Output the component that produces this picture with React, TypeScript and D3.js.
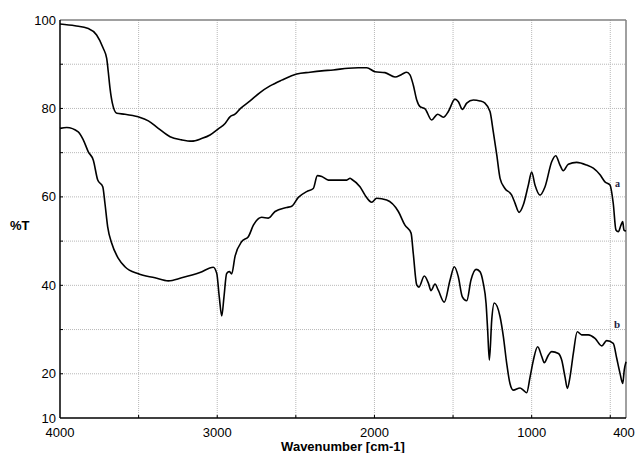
import React from "react";
import * as d3 from "d3";

// FTIR spectra: wavenumber (cm-1) against transmittance (%T)
const waveA = [4000, 3905, 3820, 3767, 3725, 3703, 3693, 3682, 3667, 3639, 3587, 3502, 3438, 3375, 3300, 3226, 3162, 3099, 3046, 2993, 2950, 2919, 2887, 2855, 2791, 2728, 2664, 2590, 2494, 2410, 2335, 2262, 2166, 2103, 2049, 1996, 1933, 1869, 1827, 1795, 1774, 1753, 1731, 1710, 1678, 1636, 1598, 1562, 1530, 1488, 1466, 1441, 1413, 1371, 1329, 1297, 1265, 1244, 1222, 1201, 1170, 1127, 1106, 1080, 1053, 1021, 1000, 979, 947, 915, 872, 847, 820, 799, 767, 714, 650, 608, 565, 534, 502, 481, 464, 449, 432, 421, 413, 400];
const transA = [99.1, 98.7, 98.1, 96.6, 93.6, 91.3, 88.3, 84.6, 81.2, 78.9, 78.7, 78.1, 77.2, 75.5, 73.6, 72.9, 72.6, 73.2, 74.0, 75.4, 76.6, 78.1, 78.7, 79.9, 81.7, 83.6, 85.1, 86.4, 87.8, 88.2, 88.5, 88.7, 89.1, 89.2, 89.2, 88.3, 88.1, 87.1, 87.7, 88.2, 87.6, 85.3, 81.9, 80.4, 79.9, 77.4, 78.7, 78.0, 79.3, 82.1, 81.5, 79.8, 81.2, 81.9, 81.7, 81.2, 79.3, 74.7, 69.5, 64.2, 61.9, 60.4, 58.6, 56.5, 58.2, 62.7, 65.6, 62.7, 60.4, 62.3, 68.0, 69.3, 67.2, 65.9, 67.4, 67.8, 67.2, 66.5, 65.0, 63.4, 62.7, 58.5, 52.5, 52.1, 53.6, 54.4, 52.5, 52.3];

const waveB = [4000, 3957, 3884, 3852, 3820, 3788, 3760, 3728, 3714, 3697, 3671, 3629, 3587, 3502, 3396, 3311, 3226, 3110, 3025, 3003, 2987, 2971, 2957, 2940, 2923, 2908, 2887, 2844, 2802, 2770, 2717, 2675, 2632, 2558, 2526, 2484, 2431, 2389, 2363, 2335, 2293, 2240, 2176, 2155, 2145, 2092, 2060, 2017, 1986, 1922, 1848, 1806, 1767, 1753, 1731, 1717, 1683, 1657, 1640, 1615, 1594, 1556, 1519, 1492, 1467, 1441, 1413, 1386, 1354, 1329, 1308, 1290, 1280, 1269, 1254, 1238, 1201, 1180, 1159, 1138, 1117, 1074, 1053, 1032, 1010, 989, 962, 936, 920, 894, 873, 830, 809, 788, 773, 756, 735, 710, 682, 640, 597, 554, 523, 481, 459, 438, 421, 411, 400];
const transB = [75.5, 75.7, 74.7, 72.9, 70.2, 68.3, 63.8, 62.3, 58.5, 53.3, 49.5, 46.1, 44.2, 42.6, 41.7, 41.0, 41.7, 42.9, 44.1, 42.7, 37.4, 33.1, 37.4, 42.7, 43.1, 42.6, 46.5, 49.9, 51.0, 53.6, 55.4, 55.2, 56.7, 57.6, 57.9, 59.9, 61.2, 61.9, 64.8, 64.6, 63.8, 63.8, 63.8, 64.2, 64.0, 62.3, 60.4, 58.8, 59.7, 59.3, 56.7, 53.6, 51.8, 47.2, 40.1, 39.6, 42.1, 40.5, 38.8, 40.3, 38.9, 36.2, 41.2, 44.2, 42.0, 37.4, 36.5, 41.2, 43.6, 43.1, 40.5, 35.9, 29.9, 23.1, 32.2, 36.0, 32.9, 28.4, 22.4, 17.8, 16.3, 16.8, 16.3, 15.7, 19.3, 23.1, 26.1, 23.9, 22.5, 24.2, 25.0, 24.6, 23.1, 19.3, 16.7, 19.3, 24.6, 29.5, 28.8, 28.8, 28.0, 26.3, 27.5, 26.9, 23.5, 20.1, 17.8, 20.9, 22.7];

const xTickValues = [4000, 3000, 2000, 1000, 400];
const xGridValues = [3500, 3000, 2500, 2000, 1500, 1000, 500];
const yTickValues = [100, 80, 60, 40, 20, 10];
const yGridValues = [90, 80, 70, 60, 50, 40, 30, 20];

const W = 636;
const H = 453;
const left = 60;
const right = 626;
const top = 20;
const bottom = 418;

export default function App() {
  const x = d3.scaleLinear().domain([4000, 400]).range([left, right]);
  const y = d3.scaleLinear().domain([10, 100]).range([bottom, top]);

  const line = d3
    .line<[number, number]>()
    .x((d) => x(d[0]))
    .y((d) => y(d[1]))
    .curve(d3.curveMonotoneX);

  const pathA = line(waveA.map((w, i) => [w, transA[i]]) as [number, number][]) || "";
  const pathB = line(waveB.map((w, i) => [w, transB[i]]) as [number, number][]) || "";

  const font = "'Liberation Sans', Arial, sans-serif";

  return (
    <div style={{ position: "absolute", left: 0, top: 0 }}>
      <svg width={W} height={H} style={{ display: "block", background: "#fff" }}>
        {/* grid */}
        {yGridValues.map((v) => (
          <line key={"gy" + v} x1={left} x2={right} y1={y(v)} y2={y(v)} stroke="#b8b8b8" strokeWidth={1} strokeDasharray="1,1" />
        ))}
        {xGridValues.map((v) => (
          <line key={"gx" + v} x1={x(v)} x2={x(v)} y1={top} y2={bottom} stroke="#b8b8b8" strokeWidth={1} strokeDasharray="1,1" />
        ))}

        {/* frame */}
        <line x1={left} x2={right} y1={top} y2={top} stroke="#808080" strokeWidth={1.5} />
        <line x1={right} x2={right} y1={top} y2={bottom} stroke="#808080" strokeWidth={1.5} />
        <line x1={left} x2={left} y1={top} y2={bottom} stroke="#000" strokeWidth={1.5} />
        <line x1={left} x2={right} y1={bottom} y2={bottom} stroke="#000" strokeWidth={1.5} />

        {/* inward ticks */}
        {[90, 80, 70, 60, 50, 40, 30, 20].map((v) => (
          <line key={"ty" + v} x1={left} x2={left + 3} y1={y(v)} y2={y(v)} stroke="#000" strokeWidth={1} />
        ))}
        {xGridValues.map((v) => (
          <line key={"tx" + v} x1={x(v)} x2={x(v)} y1={bottom} y2={bottom - 3} stroke="#000" strokeWidth={1} />
        ))}

        {/* spectra */}
        <path d={pathA} fill="none" stroke="#000" strokeWidth={1.6} strokeLinejoin="round" />
        <path d={pathB} fill="none" stroke="#000" strokeWidth={1.6} strokeLinejoin="round" />

        {/* tick labels */}
        {yTickValues.map((v) => (
          <text key={"ly" + v} x={56} y={y(v) + 4.5} textAnchor="end" fontFamily={font} fontSize={13} fill="#000">
            {v}
          </text>
        ))}
        {xTickValues.map((v) => (
          <text key={"lx" + v} x={v === 400 ? x(v) - 2 : x(v)} y={437} textAnchor="middle" fontFamily={font} fontSize={13} fill="#000">
            {v}
          </text>
        ))}

        {/* axis titles */}
        <text x={343} y={451} textAnchor="middle" fontFamily={font} fontSize={13} fontWeight="bold" fill="#000">
          Wavenumber [cm-1]
        </text>
        <text x={10} y={230} fontFamily={font} fontSize={13} fontWeight="bold" fill="#000">
          %T
        </text>

        {/* series labels */}
        <text x={615} y={187} fontFamily="'Liberation Serif', 'Times New Roman', serif" fontSize={10} fontWeight="bold" fill="#1c1c40">
          a
        </text>
        <text x={614} y={328} fontFamily="'Liberation Serif', 'Times New Roman', serif" fontSize={11} fontWeight="bold" fill="#1c1c40">
          b
        </text>
      </svg>
    </div>
  );
}
